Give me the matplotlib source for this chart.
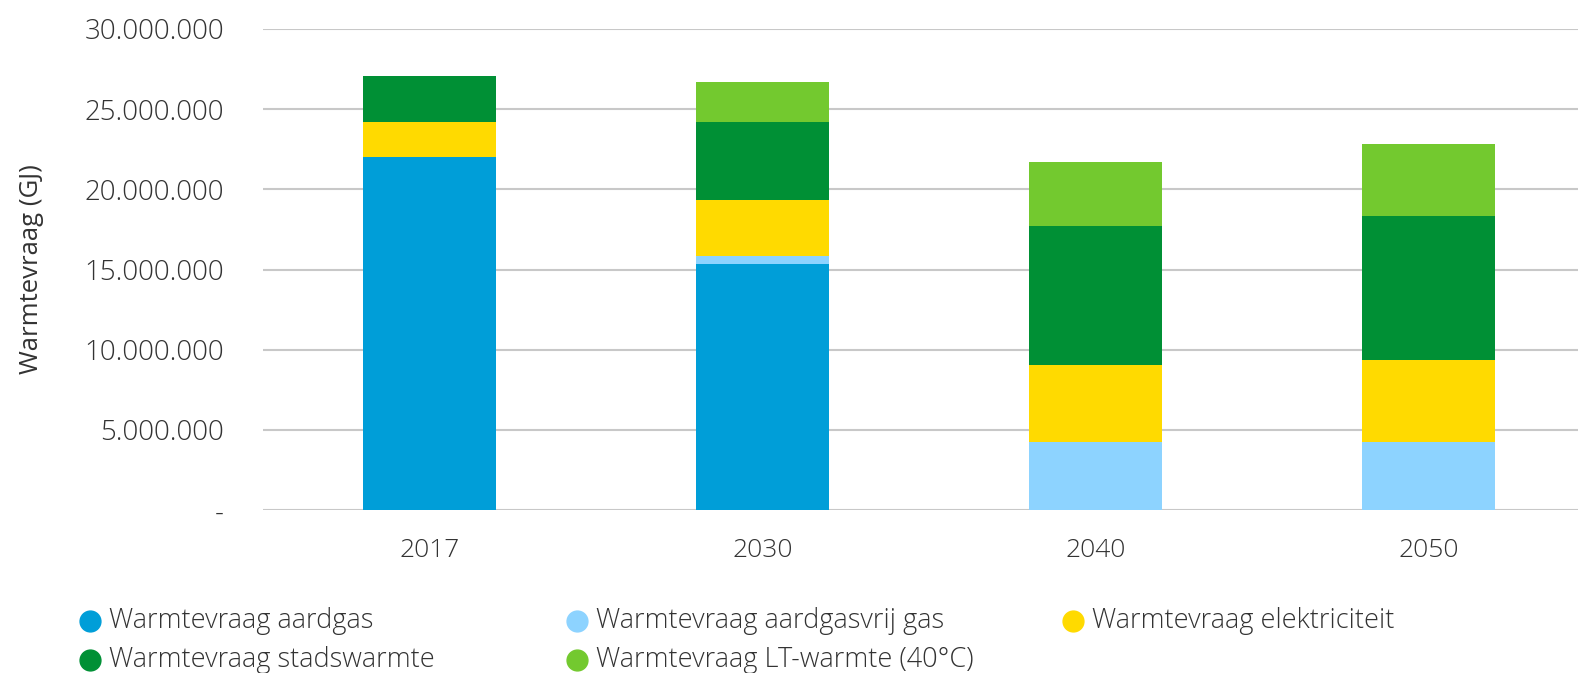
import matplotlib.pyplot as plt
import numpy as np
from matplotlib.lines import Line2D
from matplotlib.ticker import FuncFormatter

plt.rcParams['font.family'] = ['Open Sans', 'DejaVu Sans']
plt.rcParams['font.weight'] = 'light'

jaren = ['2017', '2030', '2040', '2050']
series = ['Warmtevraag aardgas', 'Warmtevraag aardgasvrij gas', 'Warmtevraag elektriciteit',
          'Warmtevraag stadswarmte', 'Warmtevraag LT-warmte (40°C)']
kleuren = ['#009ed8', '#8dd3ff', '#ffda00', '#009035', '#73c92f']

# warmtevraag in GJ per jaar
aardgas = [22030000, 15360000, 0, 0]
aardgasvrij = [0, 500000, 4260000, 4260000]
elektriciteit = [2190000, 3490000, 4790000, 5100000]
stadswarmte = [2870000, 4870000, 8680000, 8990000]
lt_warmte = [0, 2500000, 3990000, 4500000]

waarden = [aardgas, aardgasvrij, elektriciteit, stadswarmte, lt_warmte]

tekst = '#333333'

fig = plt.figure(figsize=(15.78, 6.73), dpi=100)
ax = fig.add_axes([263 / 1578, 1 - 510 / 673, 1332 / 1578, 481 / 673])

x = np.arange(len(jaren))
onder = np.zeros(len(jaren))
for naam, vals, kleur in zip(series, waarden, kleuren):
    ax.bar(x, vals, width=0.40, bottom=onder, color=kleur, label=naam, zorder=3)
    onder += np.array(vals)

ax.set_xlim(-0.5, 3.5)
ax.set_ylim(0, 30000000)
ax.set_yticks(np.arange(0, 30000001, 5000000))
ax.yaxis.set_major_formatter(FuncFormatter(
    lambda v, p: '-' if v == 0 else f'{int(v):,}'.replace(',', '.')))
ax.set_xticks(x)
ax.set_xticklabels(jaren)
ax.grid(axis='y', color='#c8c8c8', linewidth=1.5, zorder=0)
for s in ax.spines.values():
    s.set_visible(False)
ax.tick_params(axis='both', length=0, colors=tekst)
ax.tick_params(axis='y', pad=28, labelsize=20)
ax.tick_params(axis='x', pad=20, labelsize=19)

ax.set_ylabel('Warmtevraag (GJ)', fontsize=18.5, color=tekst)
ax.yaxis.set_label_coords(-(263 - 44) / 1332, 0.5)

# legenda, drie kolommen
posities = [(90, 621), (577, 621), (1073, 621), (90, 660), (577, 660)]
for (px, py), naam, kleur in zip(posities, series, kleuren):
    fx, fy = px / 1578, 1 - py / 673
    fig.add_artist(Line2D([fx], [fy], marker='o', markersize=15, color=kleur,
                          linestyle='none', transform=fig.transFigure))
    fig.text(fx + 19 / 1578, fy, naam, fontsize=19.5, color=tekst, va='center', ha='left')

fig.savefig('out.png', dpi=100)
